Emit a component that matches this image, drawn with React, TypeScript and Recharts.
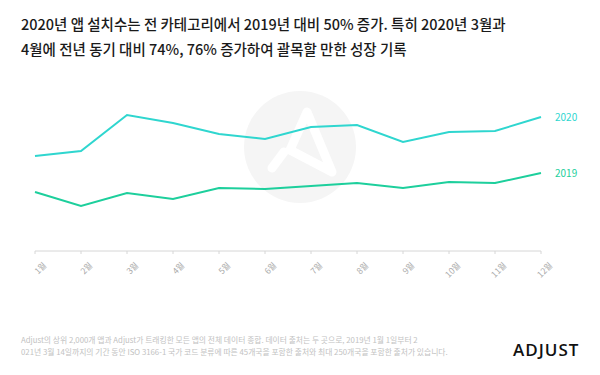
import React from "react"
import { LineChart, Line, XAxis, YAxis, LabelList } from "recharts"

const months = ["1월", "2월", "3월", "4월", "5월", "6월", "7월", "8월", "9월", "10월", "11월", "12월"]
const installs2020 = [95, 100, 136, 128, 117, 112, 124, 126, 109, 119, 120, 134]
const installs2019 = [59, 45, 58, 52, 63, 62, 65, 68, 63, 69, 68, 78]

const titleLines = [
  "2020년 앱 설치수는 전 카테고리에서 2019년 대비 50% 증가. 특히 2020년 3월과",
  "4월에 전년 동기 대비 74%, 76% 증가하여 괄목할 만한 성장 기록",
]
const footLines = [
  "Adjust의 상위 2,000개 앱과 Adjust가 트래킹한 모든 앱의 전체 데이터 종합. 데이터 출처는 두 곳으로, 2019년 1월 1일부터 2",
  "021년 3월 14일까지의 기간 동안 ISO 3166-1 국가 코드 분류에 따른 45개국을 포함한 출처와 최대 250개국을 포함한 출처가 있습니다.",
]

const data = months.map((m, i) => ({ month: m, y2020: installs2020[i], y2019: installs2019[i] }))

const C2020 = "#2fd6cf"
const C2019 = "#1dcf9c"
const FONT = "'Noto Sans CJK KR', 'Noto Sans', sans-serif"

// rotated month labels under the axis
const MonthTick = (props: any) => {
  const { x, y, payload } = props
  return (
    <text
      x={x + 12}
      y={y + 10}
      transform={`rotate(-45, ${x + 12}, ${y + 10})`}
      textAnchor="end"
      fontSize={8.5}
      fill="#aaaaaa"
      fontFamily={FONT}
    >
      {payload.value}
    </text>
  )
}

// series name next to its last point only
const endLabel = (name: string, color: string) => (props: any) => {
  const { x, y, index } = props
  if (index !== data.length - 1) return null
  return (
    <text x={x + 14} y={y} dy={3.5} fontSize={10} fill={color} fontFamily={FONT}>
      {name}
    </text>
  )
}

export default function App() {
  return (
    <div style={{ position: "fixed", left: 0, top: 0, width: 600, height: 375, background: "#fff", overflow: "hidden" }}>
      {/* watermark behind the lines */}
      <svg width={600} height={375} style={{ position: "absolute", left: 0, top: 0 }}>
        <circle cx={300} cy={147} r={56} fill="#f5f5f5" />
        <path
          d="M307 112 L332 172 L290 150 Z M284 152 L272 168"
          fill="none"
          stroke="#ffffff"
          strokeWidth={9}
          strokeLinejoin="round"
          strokeLinecap="round"
        />
      </svg>

      <div style={{ position: "absolute", left: 0, top: 0 }}>
        <LineChart width={600} height={375} data={data} margin={{ top: 71, right: 59, left: 35, bottom: 94 }}>
          <XAxis
            dataKey="month"
            height={30}
            stroke="#d6d6d6"
            tickSize={3}
            tickLine={{ stroke: "#d6d6d6" }}
            tick={<MonthTick />}
            interval={0}
          />
          <YAxis hide domain={[0, 180]} />
          <Line type="linear" dataKey="y2020" stroke={C2020} strokeWidth={2} dot={false} isAnimationActive={false}>
            <LabelList dataKey="y2020" content={endLabel("2020", C2020)} />
          </Line>
          <Line type="linear" dataKey="y2019" stroke={C2019} strokeWidth={2} dot={false} isAnimationActive={false}>
            <LabelList dataKey="y2019" content={endLabel("2019", C2019)} />
          </Line>
        </LineChart>
      </div>

      <div style={{ position: "absolute", left: 21, top: 11, fontFamily: FONT, fontSize: 14.5, fontWeight: 500, color: "#1a1a1a", lineHeight: "25px", whiteSpace: "nowrap" }}>
        {titleLines.map((t) => (
          <div key={t}>{t}</div>
        ))}
      </div>

      <div style={{ position: "absolute", left: 21, top: 334, fontFamily: FONT, fontSize: 7.8, color: "#c2c2c2", lineHeight: "12px", whiteSpace: "nowrap" }}>
        {footLines.map((t) => (
          <div key={t}>{t}</div>
        ))}
      </div>

      <div style={{ position: "absolute", left: 513, top: 338, fontFamily: "'Open Sans', sans-serif", fontSize: 17, fontWeight: 600, color: "#111", letterSpacing: 1 }}>
        ADJUST
      </div>
    </div>
  )
}
